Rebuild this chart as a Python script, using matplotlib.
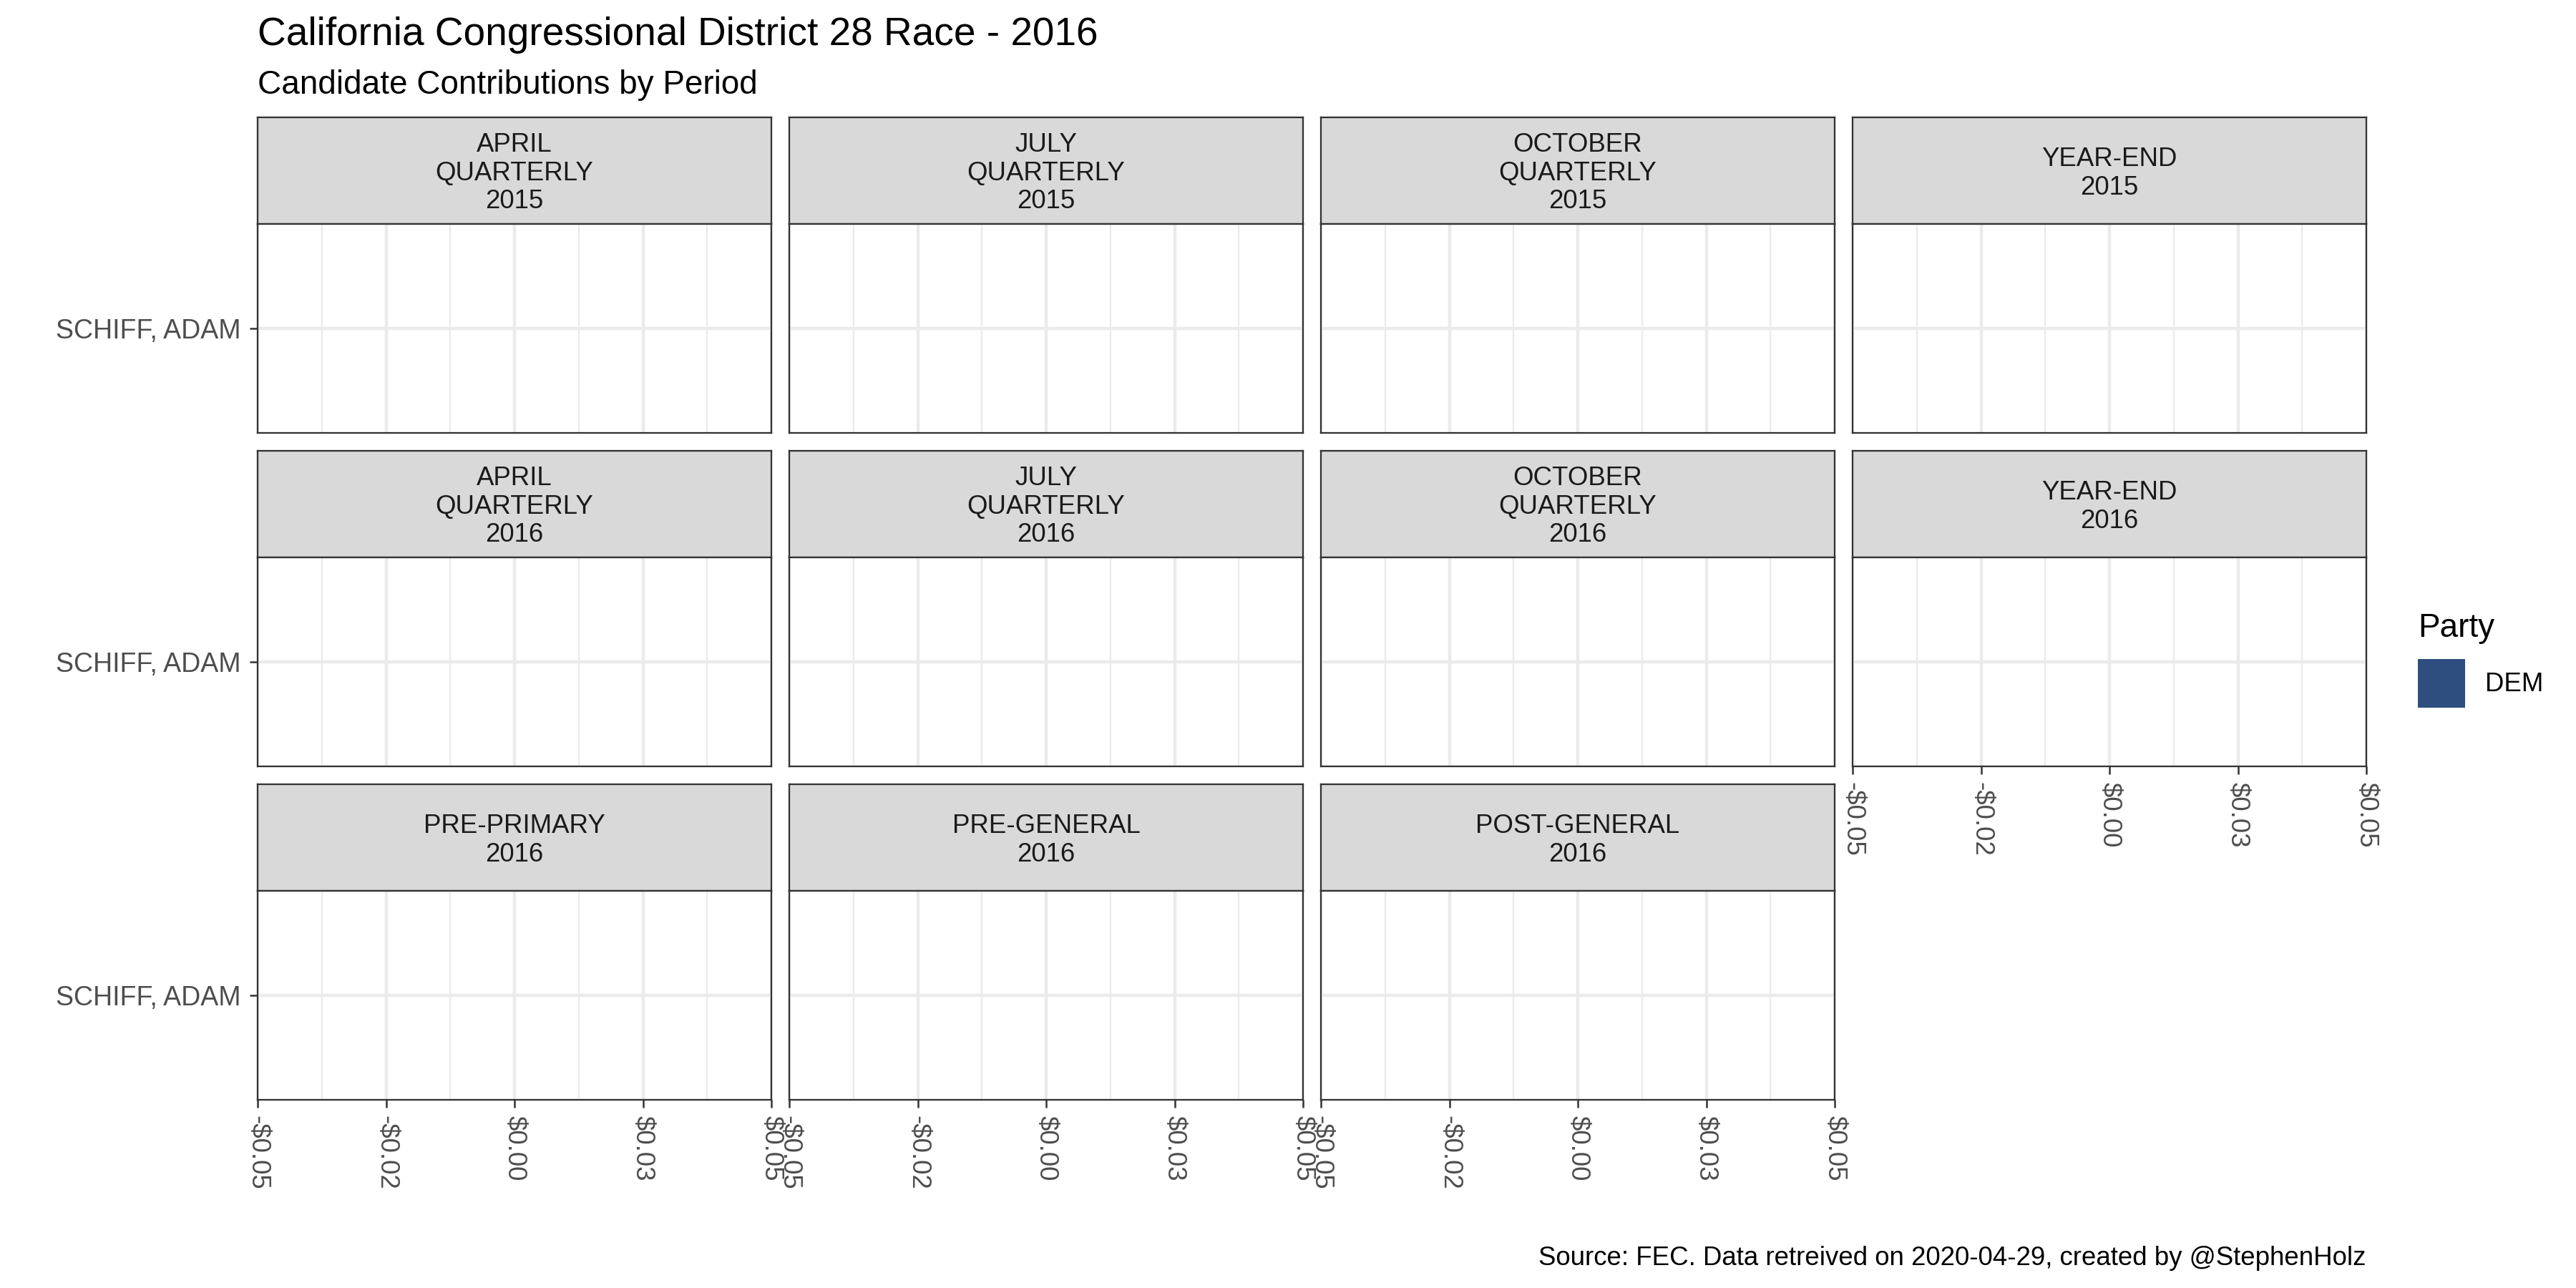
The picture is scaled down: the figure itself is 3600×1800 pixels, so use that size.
import matplotlib
matplotlib.use("Agg")
import matplotlib.pyplot as plt

plt.rcParams['font.family'] = ['Liberation Sans', 'DejaVu Sans']

# ---------------- data ----------------
title = "California Congressional District 28 Race - 2016"
subtitle = "Candidate Contributions by Period"
caption = "Source: FEC. Data retreived on 2020-04-29, created by @StephenHolz"

periods = ["APRIL\nQUARTERLY", "JULY\nQUARTERLY", "OCTOBER\nQUARTERLY", "YEAR-END",
           "APRIL\nQUARTERLY", "JULY\nQUARTERLY", "OCTOBER\nQUARTERLY", "YEAR-END",
           "PRE-PRIMARY", "PRE-GENERAL", "POST-GENERAL"]
years = ["2015", "2015", "2015", "2015",
         "2016", "2016", "2016", "2016",
         "2016", "2016", "2016"]
candidates = ["SCHIFF, ADAM"]
contributions = [0.0, 0.0, 0.0, 0.0, 0.0, 0.0, 0.0, 0.0, 0.0, 0.0, 0.0]
parties = ["DEM"]
party_colors = ["#2D4E7E"]

x_limits = [-0.05, 0.05]
x_ticks = [-0.05, -0.025, 0.0, 0.025, 0.05]
x_tick_labels = ["-$0.05", "-$0.02", "$0.00", "$0.03", "$0.05"]

# ---------------- layout (pixels) ----------------
W, H = 3600, 1800
fig = plt.figure(figsize=(12, 6), dpi=300)
fig.patch.set_facecolor("white")

col_left = [360, 1103, 1846, 2589]
panel_w = 718
row_top = [164, 630, 1096]
strip_h = 149
body_h = 292


def fr(x, y, w, h):
    return [x / W, 1 - (y + h) / H, w / W, h / H]


minor_ticks = [(a + b) / 2 for a, b in zip(x_ticks[:-1], x_ticks[1:])]
border_col = "#333333"
spine_lw = 0.55
bar_handle = None

for i, (per, yr) in enumerate(zip(periods, years)):
    r, c = divmod(i, 4)
    # strip
    sax = fig.add_axes(fr(col_left[c], row_top[r], panel_w, strip_h))
    sax.set_facecolor("#D9D9D9")
    sax.set_xticks([])
    sax.set_yticks([])
    for s in sax.spines.values():
        s.set_color(border_col)
        s.set_linewidth(spine_lw)
    sax.text(0.5, 0.475, per + "\n" + yr, transform=sax.transAxes, ha="center",
             va="center", fontsize=8.8, color="#1A1A1A", linespacing=1.17,
             multialignment="center")

    # panel
    ax = fig.add_axes(fr(col_left[c], row_top[r] + strip_h, panel_w, body_h))
    ax.set_facecolor("white")
    bars = ax.barh(range(len(candidates)), [contributions[i]], height=0.9,
                   color=party_colors[0], label=parties[0], zorder=3)
    if bar_handle is None:
        bar_handle = bars
    ax.set_xlim(x_limits)
    ax.set_ylim(-0.6, len(candidates) - 0.4)
    ax.set_xticks(x_ticks)
    ax.set_xticks(minor_ticks, minor=True)
    ax.set_yticks(range(len(candidates)))
    ax.set_axisbelow(True)
    ax.grid(which="major", color="#EBEBEB", linewidth=1.07)
    ax.grid(which="minor", axis="x", color="#EBEBEB", linewidth=0.53)
    for s in ax.spines.values():
        s.set_color(border_col)
        s.set_linewidth(spine_lw)

    show_x = (r == 2) or (r == 1 and c == 3)
    ax.tick_params(axis="x", which="minor", length=0)
    if show_x:
        ax.set_xticklabels(x_tick_labels, rotation=-90, va="top", ha="center")
        ax.tick_params(axis="x", which="major", length=2.64, width=0.6,
                       color=border_col, pad=2.6, labelsize=8.8,
                       labelcolor="#4D4D4D")
    else:
        ax.tick_params(axis="x", which="major", bottom=False, labelbottom=False)

    if c == 0:
        ax.set_yticklabels(candidates)
        ax.tick_params(axis="y", length=2.64, width=0.6, color=border_col,
                       pad=2.9, labelsize=9.0, labelcolor="#4D4D4D")
    else:
        ax.tick_params(axis="y", left=False, labelleft=False)

# ---------------- titles ----------------
fig.text(360 / W, 1 - 63 / H, title, fontsize=13.2, color="black",
         ha="left", va="baseline")
fig.text(360 / W, 1 - 131 / H, subtitle, fontsize=11, color="black",
         ha="left", va="baseline")
fig.text(3307 / W, 1 - 1768 / H, caption, fontsize=8.8, color="black",
         ha="right", va="baseline")

# ---------------- legend ----------------
fig.legend(handles=[bar_handle], labels=parties, title="Party",
           loc="upper left", bbox_to_anchor=(3379 / W, 1 - 856 / H),
           frameon=False, borderpad=0, borderaxespad=0,
           handlelength=1.8, handleheight=2.45, handletextpad=0.76,
           labelspacing=0.58, fontsize=8.8, title_fontsize=11,
           alignment="left")

fig.savefig("out.png", dpi=300, facecolor="white")
